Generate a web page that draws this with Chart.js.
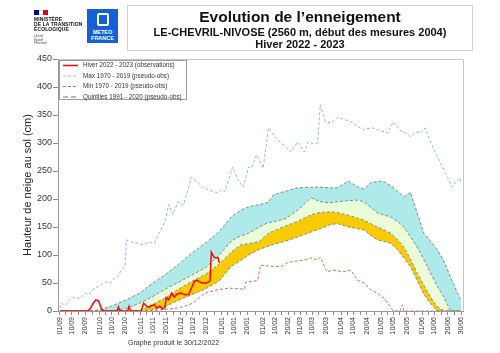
<!DOCTYPE html>
<html>
<head>
<meta charset="utf-8">
<script src="https://cdn.jsdelivr.net/npm/chart.js@4"></script>
<style>
  body { margin: 0; background: #fff; font-family: "Liberation Sans", Arial, sans-serif; }
  #wrap { position: relative; width: 500px; height: 353px; overflow: hidden; }
  #chart { position: absolute; left: 0; top: 0; }
  .titlebox { position: absolute; left: 127px; top: 5px; width: 344px; height: 44px; border: 1px solid #cfcfcf; color: #111; text-align: center; }
  .t1 { position: absolute; left: 0; right: 0; top: 2px; font-size: 15.5px; font-weight: bold; line-height: 17px; }
  .t2 { position: absolute; left: 0; right: 0; top: 20px; font-size: 11px; font-weight: bold; line-height: 12px; }
  .t3 { position: absolute; left: 0; right: 0; top: 32px; font-size: 11px; font-weight: bold; line-height: 12px; }
  .rf { position: absolute; left: 34px; top: 10px; width: 50px; color: #111; }
  .flag { width: 14px; height: 5px; display: flex; }
  .flag span { flex: 1; }
  .rf .m { font-size: 5px; font-weight: bold; line-height: 5px; margin-top: 2px; letter-spacing: 0.1px; }
  .rf .d { font-size: 3px; font-style: italic; line-height: 3.5px; margin-top: 3px; color: #444; }
  .mf { position: absolute; left: 87px; top: 9px; width: 31px; height: 34px; background: #1660d6; color: #fff; text-align: center; }
  .mf .ic { width: 8px; height: 9px; border: 2px solid #fff; border-radius: 2px; margin: 4px auto 0; }
  .mf .tx { font-size: 5.5px; font-weight: bold; line-height: 6px; margin-top: 3px; }
  .credit { position: absolute; left: 128px; top: 339px; font-size: 7px; color: #333; }
</style>
</head>
<body>
<div id="wrap">
  <canvas id="chart" width="500" height="353"></canvas>
  <div class="rf">
    <div class="flag"><span style="background:#000091"></span><span style="background:#fff;border-top:1px solid #ddd;border-bottom:1px solid #ddd"></span><span style="background:#e1000f"></span></div>
    <div class="m">MINISTÈRE<br>DE LA TRANSITION<br>ÉCOLOGIQUE</div>
    <div class="d">Liberté<br>Égalité<br>Fraternité</div>
  </div>
  <div class="mf"><div class="ic"></div><div class="tx">METEO<br>FRANCE</div></div>
  <div class="titlebox">
    <div class="t1">Evolution de l’enneigement</div>
    <div class="t2">LE-CHEVRIL-NIVOSE (2560 m, début des mesures 2004)</div>
    <div class="t3">Hiver 2022 - 2023</div>
  </div>
  <div class="credit">Graphe produit le 30/12/2022</div>
</div>
<script>
// x = jours depuis le 01/09
const tickDays = [0, 9, 19, 30, 39, 49, 61, 70, 80, 91, 100, 110, 122, 131, 141, 153, 162, 172, 181, 190, 200, 212, 221, 231, 242, 251, 261, 273, 282, 292, 302];
const tickLabels = ["01/09", "10/09", "20/09", "01/10", "10/10", "20/10", "01/11", "10/11", "20/11", "01/12", "10/12", "20/12", "01/01", "10/01", "20/01", "01/02", "10/02", "20/02", "01/03", "10/03", "20/03", "01/04", "10/04", "20/04", "01/05", "10/05", "20/05", "01/06", "10/06", "20/06", "30/06"];

const legendLabels = ["Hiver 2022 - 2023 (observations)", "Max 1970 - 2019 (pseudo-obs)", "Min 1970 - 2019 (pseudo-obs)", "Quintiles 1991 - 2020 (pseudo-obs)"];

// hiver 2022-2023
const obsDays = [0, 21, 23, 25, 27, 29, 30, 31, 33, 43, 44, 45, 51, 52, 53, 61, 63, 65, 67, 69, 71, 73, 75, 77, 79, 80, 82, 84, 86, 88, 91, 94, 97, 99, 101, 103, 105, 107, 110, 112, 113, 114, 116, 117, 119, 120];
const obsVals = [0, 0, 5, 14, 20, 18, 12, 5, 0, 0, 7, 0, 0, 8, 0, 0, 14, 9, 7, 10, 11, 5, 9, 4, 6, 24, 20, 32, 25, 30, 32, 29, 30, 41, 52, 55, 52, 50, 50, 52, 55, 105, 96, 95, 95, 86];

// max 1970-2019
const maxDays = [0, 1, 4, 7, 11, 15, 19, 22, 26, 30, 34, 38, 41, 44, 46, 49, 50, 54, 59, 63, 67, 71, 76, 79, 82, 85, 88, 89, 93, 97, 99, 104, 108, 112, 116, 119, 121, 124, 130, 134, 138, 142, 144, 148, 153, 157, 160, 164, 169, 174, 179, 184, 187, 191, 194, 196, 200, 204, 209, 214, 219, 224, 229, 232, 236, 241, 247, 251, 256, 260, 264, 268, 271, 275, 281, 285, 289, 292, 295, 298, 301, 302];
const maxVals = [5, 14, 10, 20, 25, 22, 32, 30, 41, 45, 52, 50, 59, 62, 73, 79, 127, 123, 121, 118, 123, 121, 145, 160, 190, 172, 190, 195, 189, 221, 239, 229, 220, 216, 213, 211, 216, 213, 257, 234, 221, 257, 255, 279, 255, 327, 318, 305, 295, 284, 302, 284, 302, 298, 300, 368, 338, 336, 346, 342, 338, 330, 323, 326, 327, 322, 318, 338, 323, 318, 311, 320, 318, 327, 291, 272, 252, 238, 221, 230, 238, 229];

// min 1970-2019
const minDays = [0, 69, 76, 84, 90, 97, 100, 104, 108, 112, 119, 127, 133, 139, 140, 146, 149, 151, 158, 166, 172, 178, 184, 189, 194, 196, 201, 206, 213, 219, 224, 229, 234, 239, 244, 249, 251, 256, 258, 259, 302];
const minVals = [0, 0, 2, 4, 6, 11, 14, 22, 30, 34, 38, 41, 40, 39, 52, 53, 55, 82, 80, 79, 87, 89, 91, 95, 91, 96, 70, 73, 70, 73, 55, 50, 38, 32, 23, 7, 0, 0, 11, 0, 0];

// quintiles 1991-2020
const qDays = [0, 20, 30, 40, 50, 60, 70, 80, 90, 100, 110, 120, 129, 136, 142, 150, 157, 161, 170, 179, 189, 196, 203, 209, 217, 224, 229, 234, 239, 243, 249, 254, 259, 264, 269, 274, 279, 284, 289, 294, 302];
const q80 = [0, 0, 2, 10, 20, 32, 50, 66, 85, 105, 122, 142, 168, 180, 186, 190, 194, 208, 214, 220, 221, 221, 220, 220, 232, 222, 218, 229, 231, 232, 224, 214, 204, 212, 175, 139, 125, 110, 90, 61, 18];
const q60 = [0, 0, 0, 0, 5, 14, 26, 40, 52, 65, 78, 100, 125, 134, 139, 150, 158, 159, 165, 180, 202, 195, 193, 195, 197, 198, 195, 185, 175, 172, 168, 160, 150, 132, 114, 92, 68, 45, 25, 0, 0];
const q40 = [0, 0, 0, 0, 0, 0, 12, 24, 40, 54, 66, 84, 105, 118, 120, 124, 139, 143, 152, 160, 172, 176, 177, 176, 171, 166, 162, 156, 150, 146, 139, 128, 114, 92, 68, 46, 25, 8, 0, 0, 0];
const q20 = [0, 0, 0, 0, 0, 0, 2, 9, 20, 30, 40, 54, 80, 90, 100, 110, 116, 119, 125, 132, 141, 147, 154, 156, 150, 147, 145, 135, 127, 125, 121, 110, 95, 79, 55, 30, 14, 0, 0, 0, 0];

const pts = (xs, ys) => xs.map((x, i) => ({ x: x, y: ys[i] }));

const allTicks = [];
tickDays.forEach((d, i) => {
  allTicks.push(d);
  if (i < tickDays.length - 1) allTicks.push((d + tickDays[i + 1]) / 2);
});

const quintileStyle = { borderColor: "#6f6f6f", borderWidth: 0.8, borderDash: [3, 2], pointRadius: 0 };

// cadre + légende dans la zone du graphe
const framePlugin = {
  id: "frame",
  afterDraw(chart) {
    const { ctx, chartArea: a } = chart;
    ctx.save();
    ctx.strokeStyle = "#c4c4c4";
    ctx.lineWidth = 1;
    ctx.beginPath();
    ctx.moveTo(a.left, a.top + 0.5);
    ctx.lineTo(a.right + 0.5, a.top + 0.5);
    ctx.lineTo(a.right + 0.5, a.bottom);
    ctx.stroke();

    const x0 = a.left + 1, y0 = a.top + 1, w = 127, h = 39;
    ctx.fillStyle = "#fff";
    ctx.fillRect(x0, y0, w, h);
    ctx.strokeStyle = "#9a9a9a";
    ctx.strokeRect(x0 + 0.5, y0 + 0.5, w, h);
    const styles = [
      { c: "#ff0000", d: [], lw: 1.5 },
      { c: "#8fb8ea", d: [3, 2], lw: 1 },
      { c: "#c4744c", d: [3, 2], lw: 1 },
      { c: "#707070", d: [5, 3], lw: 1 }
    ];
    ctx.font = "6.3px 'Liberation Sans', Arial, sans-serif";
    ctx.textBaseline = "middle";
    legendLabels.forEach((lab, i) => {
      const y = y0 + 5.5 + i * 10.5;
      ctx.beginPath();
      ctx.setLineDash(styles[i].d);
      ctx.strokeStyle = styles[i].c;
      ctx.lineWidth = styles[i].lw;
      ctx.moveTo(x0 + 4, y);
      ctx.lineTo(x0 + 19, y);
      ctx.stroke();
      ctx.setLineDash([]);
      ctx.fillStyle = "#333";
      ctx.fillText(lab, x0 + 24, y);
    });
    ctx.restore();
  }
};

new Chart(document.getElementById("chart"), {
  type: "line",
  data: {
    datasets: [
      { label: legendLabels[0], data: pts(obsDays, obsVals), borderColor: "#ff0000", borderWidth: 1.5, pointRadius: 0 },
      { label: legendLabels[1], data: pts(maxDays, maxVals), borderColor: "#8fb8ea", borderWidth: 1, borderDash: [3, 2], pointRadius: 0 },
      { label: legendLabels[2], data: pts(minDays, minVals), borderColor: "#c4744c", borderWidth: 1, borderDash: [3, 2], pointRadius: 0 },
      { label: "q80", data: pts(qDays, q80), fill: "+1", backgroundColor: "#aeeaea", ...quintileStyle },
      { label: "q60", data: pts(qDays, q60), fill: "+1", backgroundColor: "#eafcd8", ...quintileStyle },
      { label: "q40", data: pts(qDays, q40), fill: "+1", backgroundColor: "#f8cb02", ...quintileStyle },
      { label: "q20", data: pts(qDays, q20), fill: false, ...quintileStyle }
    ]
  },
  options: {
    responsive: false,
    animation: false,
    layout: { padding: { top: 59, right: 37, left: 0, bottom: 0 } },
    plugins: {
      legend: { display: false },
      tooltip: { enabled: false },
      filler: { drawTime: "beforeDatasetsDraw" }
    },
    scales: {
      x: {
        type: "linear",
        min: -1.5,
        max: 303.5,
        afterFit: (s) => { s.height = 42; },
        afterBuildTicks: (s) => { s.ticks = allTicks.map(v => ({ value: v })); },
        grid: { drawOnChartArea: false, tickLength: 4, color: "#8a8a8a" },
        border: { color: "#9a9a9a" },
        ticks: {
          autoSkip: false,
          maxRotation: 90,
          minRotation: 90,
          padding: 2,
          color: "#333",
          font: { size: 7, family: "'Liberation Sans', Arial, sans-serif" },
          callback: (v) => {
            const i = tickDays.indexOf(v);
            return i >= 0 ? tickLabels[i] : "";
          }
        }
      },
      y: {
        min: 0,
        max: 450,
        afterFit: (s) => { s.width = 58; },
        grid: { drawOnChartArea: false, tickLength: 5, color: "#8a8a8a" },
        border: { color: "#9a9a9a" },
        ticks: {
          stepSize: 50,
          padding: 1,
          color: "#333",
          font: { size: 9, family: "'Liberation Sans', Arial, sans-serif" }
        },
        title: {
          display: true,
          text: "Hauteur de neige au sol (cm)",
          color: "#222",
          padding: { top: 21, bottom: 0 },
          font: { size: 11, family: "'Liberation Sans', Arial, sans-serif" }
        }
      }
    }
  },
  plugins: [framePlugin]
});
</script>
</body>
</html>
